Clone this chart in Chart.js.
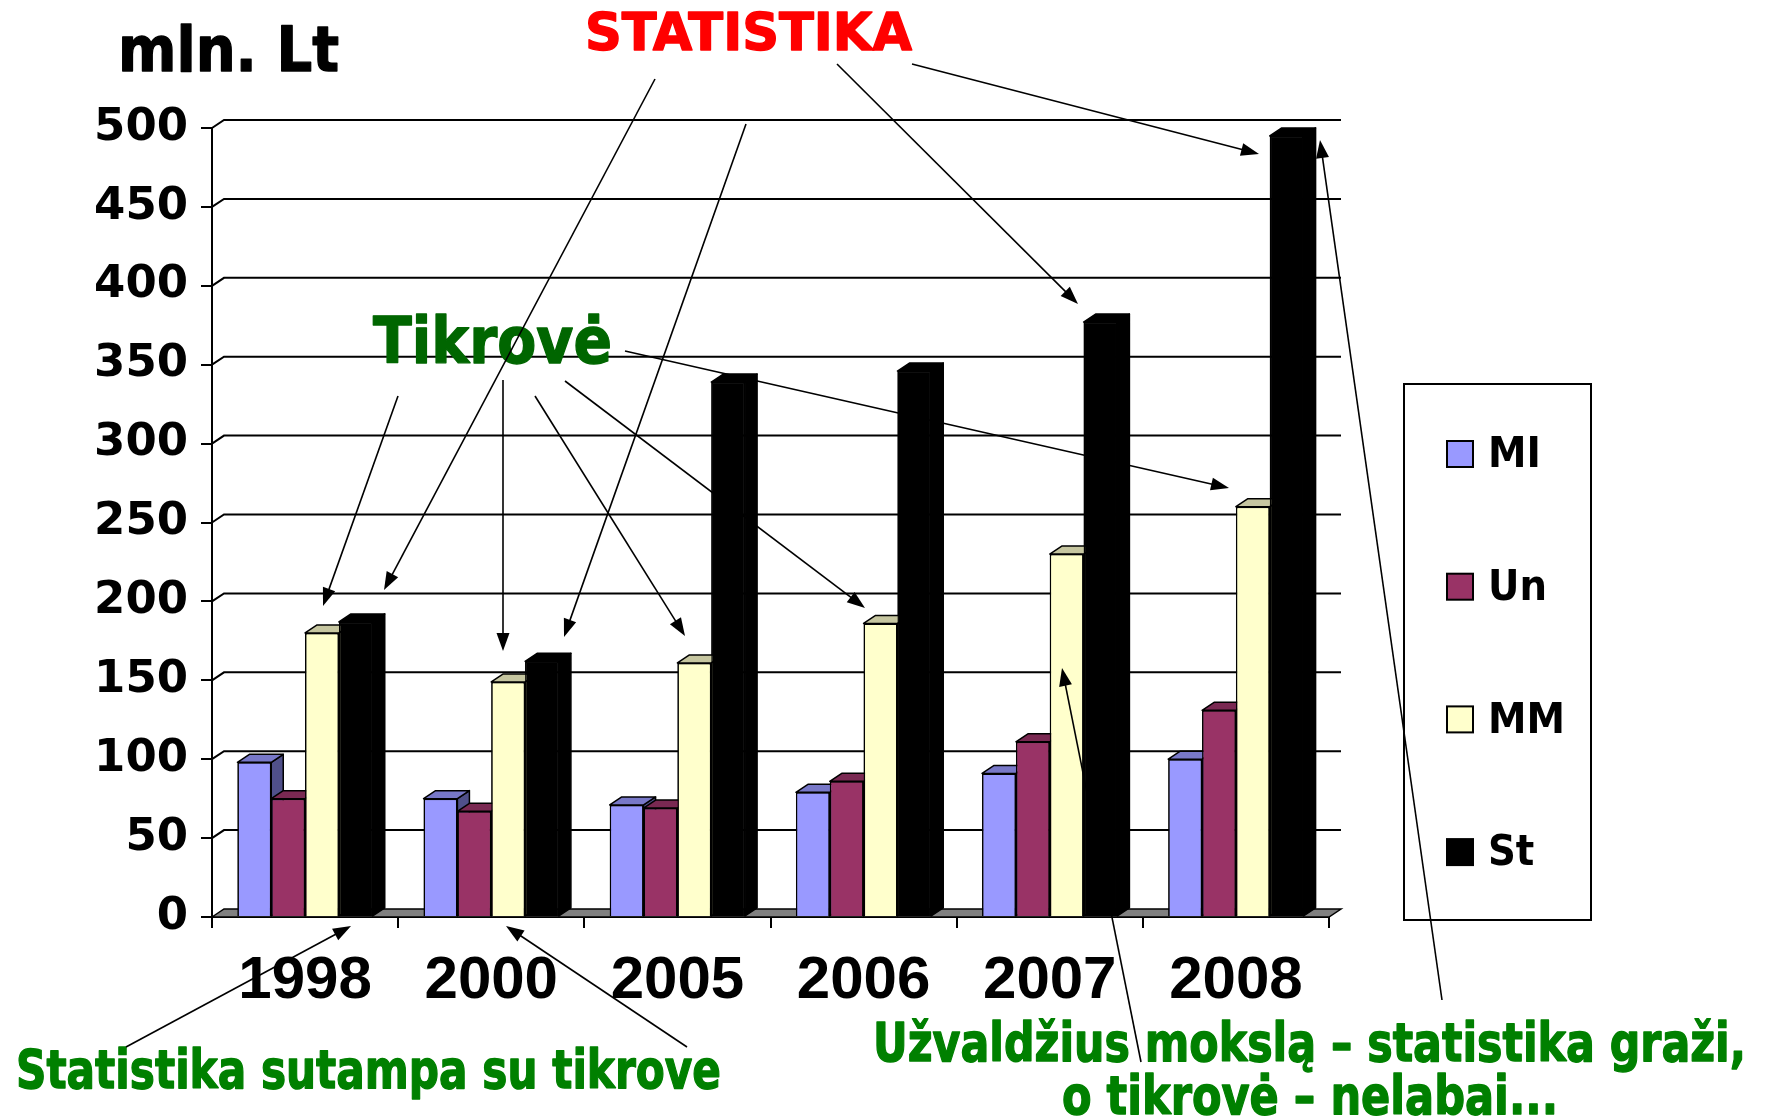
<!DOCTYPE html>
<html><head><meta charset="utf-8">
<script src="https://cdn.jsdelivr.net/npm/chart.js@4.4.1/dist/chart.umd.min.js"></script>
<style>html,body{margin:0;padding:0;background:#fff;} canvas{display:block;}</style>
</head><body>
<canvas id="c" width="1766" height="1120"></canvas>
<script>
// ---- data ----
const categories = ['1998', '2000', '2005', '2006', '2007', '2008'];
const seriesNames = ['MI', 'Un', 'MM', 'St'];
const miValues = [98, 75, 71, 79, 91, 100];
const unValues = [75, 67, 69, 86, 111, 131];
const mmValues = [180, 149, 161, 186, 230, 260];
const stValues = [187, 162, 339, 346, 377, 495];
const yTickValues = [0, 50, 100, 150, 200, 250, 300, 350, 400, 450, 500];
const yUnitLabel = 'mln. Lt';
const titleText = 'STATISTIKA';
const realityText = 'Tikrovė';
const noteLeft = 'Statistika sutampa su tikrove';
const noteRight1 = 'Užvaldžius mokslą – statistika graži,';
const noteRight2 = 'o tikrovė – nelabai...';

// ---- styles ----
const frontColors = ['#9999FF', '#993366', '#FFFFCC', '#000000'];
const topColors = ['#7878C8', '#7A2952', '#C6C6A0', '#000000'];
const sideColors = ['#50508A', '#4D1A33', '#8A8A6E', '#000000'];
const DX = 12, DY = 8;
const FONT = "'DejaVu Sans Condensed', 'DejaVu Sans', sans-serif";
const TFONT = "'DejaVu Sans', sans-serif";

// annotation layout (pixel positions of texts and arrows)
const texts = [
  {t: yUnitLabel, l: 118, r: 339, b: 71, s: 63, c: '#000000'},
  {t: titleText, l: 585, r: 912, b: 50, s: 51, c: '#FF0000'},
  {t: realityText, l: 373, r: 612, b: 363, s: 64, c: '#006600'},
  {t: noteLeft, l: 16, r: 721, b: 1088, s: 53, c: '#008000'},
  {t: noteRight1, l: 873, r: 1746, b: 1061, s: 54, c: '#008000'},
  {t: noteRight2, l: 1062, r: 1558, b: 1114, s: 53, c: '#008000'}
];
const arrows = [
  [655, 79, 384, 590], [746, 124, 564, 637], [837, 64, 1078, 304], [912, 64, 1259, 154],
  [398, 396, 323, 606], [503, 380, 503, 651], [535, 396, 685, 636], [565, 381, 865, 608], [625, 351, 1229, 488],
  [126, 1047, 351, 926], [687, 1047, 506, 926],
  [1141, 1062, 1062, 668], [1442, 1000, 1320, 140]
];
const legendBox = {x: 1404, y: 384, w: 187, h: 536};

function fitText(ctx, str, left, right, baseline, size, color) {
  ctx.save();
  ctx.font = `bold ${size}px ${TFONT}`;
  const w = ctx.measureText(str).width;
  ctx.translate(left, baseline);
  ctx.scale((right - left) / w, 1);
  ctx.fillStyle = color;
  ctx.strokeStyle = color;
  ctx.lineWidth = 1.4;
  ctx.lineJoin = 'round';
  ctx.textAlign = 'left';
  ctx.textBaseline = 'alphabetic';
  ctx.fillText(str, 0, 0);
  ctx.strokeText(str, 0, 0);
  ctx.restore();
}
function arrow(ctx, x1, y1, x2, y2) {
  const a = Math.atan2(y2 - y1, x2 - x1);
  const L = 18, W = 6.5;
  const c = Math.cos(a), s = Math.sin(a);
  ctx.beginPath();
  ctx.moveTo(x1, y1);
  ctx.lineTo(x2 - L * 0.7 * c, y2 - L * 0.7 * s);
  ctx.stroke();
  ctx.beginPath();
  ctx.moveTo(x2, y2);
  ctx.lineTo(x2 - L * c + W * s, y2 - L * s - W * c);
  ctx.lineTo(x2 - L * c - W * s, y2 - L * s + W * c);
  ctx.closePath();
  ctx.fill();
}

const threeD = {
  id: 'threeD',
  beforeDatasetsDraw(chart) {
    const {ctx, chartArea: a, scales: {y}} = chart;
    ctx.save();
    ctx.strokeStyle = '#000';
    ctx.lineWidth = 2;
    yTickValues.forEach(v => {
      if (v === 0) return;
      const py = y.getPixelForValue(v);
      ctx.beginPath();
      ctx.moveTo(a.left, py);
      ctx.lineTo(a.left + DX, py - DY);
      ctx.lineTo(a.right + DX, py - DY);
      ctx.stroke();
    });
    const b = y.getPixelForValue(0);
    ctx.beginPath();
    ctx.moveTo(a.left, b);
    ctx.lineTo(a.left + DX, b - DY);
    ctx.lineTo(a.right + DX, b - DY);
    ctx.lineTo(a.right, b);
    ctx.closePath();
    ctx.fillStyle = '#808080';
    ctx.fill();
    ctx.lineWidth = 1.5;
    ctx.stroke();
    ctx.restore();
  },
  afterDatasetsDraw(chart) {
    const ctx = chart.ctx;
    const metas = chart.data.datasets.map((d, i) => chart.getDatasetMeta(i));
    for (let j = 0; j < chart.data.labels.length; j++) {
      metas.forEach((m, i) => {
        const bar = m.data[j];
        const {x, y, base, width} = bar.getProps(['x', 'y', 'base', 'width'], true);
        const l = x - width / 2, r = x + width / 2;
        ctx.save();
        ctx.lineWidth = 1.5;
        ctx.strokeStyle = '#000';
        ctx.lineJoin = 'round';
        ctx.beginPath();
        ctx.moveTo(r, y); ctx.lineTo(r + DX, y - DY); ctx.lineTo(r + DX, base - DY); ctx.lineTo(r, base);
        ctx.closePath();
        ctx.fillStyle = sideColors[i]; ctx.fill(); ctx.stroke();
        ctx.beginPath();
        ctx.moveTo(l, y); ctx.lineTo(l + DX, y - DY); ctx.lineTo(r + DX, y - DY); ctx.lineTo(r, y);
        ctx.closePath();
        ctx.fillStyle = topColors[i]; ctx.fill(); ctx.stroke();
        ctx.restore();
        bar.draw(ctx);
      });
    }
  },
  afterDraw(chart) {
    const ctx = chart.ctx;
    ctx.save();
    // legend
    const lb = legendBox;
    ctx.fillStyle = '#fff';
    ctx.fillRect(lb.x, lb.y, lb.w, lb.h);
    ctx.strokeStyle = '#000';
    ctx.lineWidth = 2;
    ctx.strokeRect(lb.x, lb.y, lb.w, lb.h);
    chart.data.datasets.forEach((ds, i) => {
      const cy = lb.y + 70 + i * 132.7;
      ctx.fillStyle = ds.backgroundColor;
      ctx.fillRect(lb.x + 43, cy - 13, 26, 26);
      ctx.lineWidth = 2;
      ctx.strokeStyle = '#000';
      ctx.strokeRect(lb.x + 43, cy - 13, 26, 26);
      ctx.fillStyle = '#000';
      ctx.font = `bold 43px ${FONT}`;
      ctx.textBaseline = 'middle';
      ctx.textAlign = 'left';
      ctx.fillText(ds.label, lb.x + 84, cy + 2);
    });
    // texts
    texts.forEach(o => fitText(ctx, o.t, o.l, o.r, o.b, o.s, o.c));
    // arrows
    ctx.strokeStyle = '#000';
    ctx.fillStyle = '#000';
    ctx.lineWidth = 1.6;
    arrows.forEach(a => arrow(ctx, a[0], a[1], a[2], a[3]));
    ctx.restore();
  }
};

const seriesValues = [miValues, unValues, mmValues, stValues];
new Chart(document.getElementById('c'), {
  type: 'bar',
  data: {
    labels: categories,
    datasets: seriesNames.map((name, i) => ({
      label: name,
      data: seriesValues[i],
      backgroundColor: frontColors[i],
      borderColor: '#000000',
      borderWidth: 1.5,
      categoryPercentage: 0.727,
      barPercentage: 1.0,
      clip: false
    }))
  },
  options: {
    responsive: false,
    animation: false,
    events: [],
    devicePixelRatio: 1,
    layout: {padding: {left: 0, top: 128, right: 437, bottom: 0}},
    plugins: {legend: {display: false}, tooltip: {enabled: false}},
    scales: {
      x: {
        afterFit: s => { s.height = 203; },
        grid: {display: true, drawOnChartArea: false, drawTicks: true, tickLength: 11, color: '#000', lineWidth: 2, offset: true},
        border: {display: true, color: '#000', width: 2},
        ticks: {color: '#000', padding: 17, font: {family: "'Liberation Sans', Arial, sans-serif", weight: 'bold', size: 60}}
      },
      y: {
        min: 0, max: 500,
        afterFit: s => { s.width = 212; },
        afterBuildTicks: s => { s.ticks = yTickValues.map(v => ({value: v})); },
        grid: {display: true, drawOnChartArea: false, drawTicks: true, tickLength: 11, color: '#000', lineWidth: 2},
        border: {display: true, color: '#000', width: 2},
        ticks: {color: '#000', padding: 13, font: {family: "'DejaVu Sans', sans-serif", weight: 'bold', size: 45}}
      }
    }
  },
  plugins: [threeD]
});
</script>
</body></html>
